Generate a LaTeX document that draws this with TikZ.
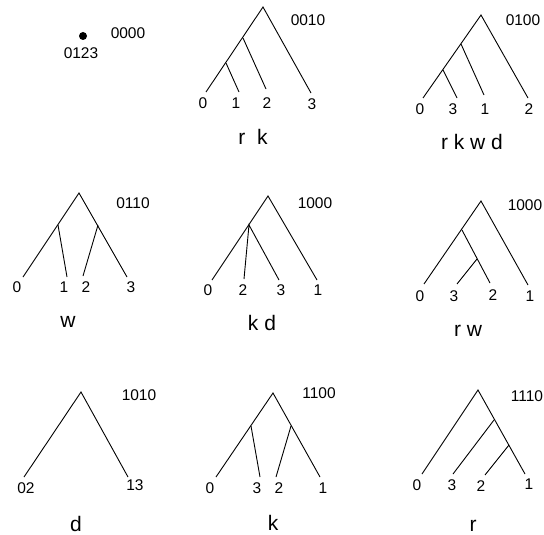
\documentclass[tikz,border=0pt]{standalone}
\usepackage{fontspec}
\setmainfont{Liberation Sans}
\begin{document}
\begin{tikzpicture}[x=1pt,y=-1pt,
  edge/.style={line width=0.9pt},
  num/.style={font=\fontsize{15.5}{15.5}\selectfont,inner sep=0pt,text height=11.1pt,text depth=0pt},
  word/.style={font=\fontsize{21}{21}\selectfont,inner sep=0pt,text height=15pt,text depth=0pt},
  pt/.style={circle,fill=black,inner sep=0pt,minimum size=8pt}]
\useasboundingbox (0,0) rectangle (544,535);

% ---- 0000: single point
\node[pt] (p1) at (83,36) {};
\node[num] (p1lab) at (81,53) {0123};
\node[num] (p1code) at (128,33) {0000};

% ---- 0010
\coordinate (a2) at (263,7);
\coordinate (a2x) at (243,38);
\coordinate (a2y) at (226,63);
\coordinate (a2l0) at (206,92);
\coordinate (a2l1) at (239,92);
\coordinate (a2l2) at (266,89);
\coordinate (a2l3) at (311,93);
\draw[edge] (a2l0) -- (a2) -- (a2l3);
\draw[edge] (a2x) -- (a2l2);
\draw[edge] (a2y) -- (a2l1);
\node[num] (t2a) at (203,103) {0};
\node[num] (t2b) at (236,103) {1};
\node[num] (t2c) at (267,103) {2};
\node[num] (t2d) at (312,104) {3};
\node[num] (c2) at (308,20) {0010};
\node[word] (w2) at (253,137) {r\ \ k};

% ---- 0100
\coordinate (a3) at (481,15);
\coordinate (a3x) at (461,44);
\coordinate (a3y) at (443,70);
\coordinate (a3l0) at (423,98);
\coordinate (a3l3) at (457,98);
\coordinate (a3l1) at (484,95);
\coordinate (a3l2) at (528,98);
\draw[edge] (a3l0) -- (a3) -- (a3l2);
\draw[edge] (a3x) -- (a3l1);
\draw[edge] (a3y) -- (a3l3);
\node[num] (t3a) at (420,109) {0};
\node[num] (t3b) at (453,109) {3};
\node[num] (t3c) at (485,109) {1};
\node[num] (t3d) at (529,109) {2};
\node[num] (c3) at (523,20) {0100};
\node[word] (w3) at (472,142) {r k w d};

% ---- 0110
\coordinate (a4) at (79,193);
\coordinate (a4x) at (58,225);
\coordinate (a4y) at (98,225);
\coordinate (a4l0) at (23,277);
\coordinate (a4l1) at (67,277);
\coordinate (a4l2) at (83,276);
\coordinate (a4l3) at (127,277);
\draw[edge] (a4l0) -- (a4) -- (a4l3);
\draw[edge] (a4x) -- (a4l1);
\draw[edge] (a4y) -- (a4l2);
\node[num] (t4a) at (17,287) {0};
\node[num] (t4b) at (64,287) {1};
\node[num] (t4c) at (86,287) {2};
\node[num] (t4d) at (131,287) {3};
\node[num] (c4) at (133,203) {0110};
\node[word] (w4) at (68,320) {w};

% ---- 1000 (middle)
\coordinate (a5) at (268,196);
\coordinate (a5x) at (249,225);
\coordinate (a5l0) at (212,280);
\coordinate (a5l2) at (244,279);
\coordinate (a5l3) at (279,280);
\coordinate (a5l1) at (317,280);
\draw[edge] (a5l0) -- (a5) -- (a5l1);
\draw[edge] (a5l2) -- (a5x) -- (a5l3);
\node[num] (t5a) at (208,290) {0};
\node[num] (t5b) at (243,290) {2};
\node[num] (t5c) at (281,290) {3};
\node[num] (t5d) at (318,290) {1};
\node[num] (c5) at (315,203) {1000};
\node[word] (w5) at (262,323) {k d};

% ---- 1000 (right)
\coordinate (a6) at (481,201);
\coordinate (a6x) at (462,230);
\coordinate (a6y) at (477,259);
\coordinate (a6l0) at (424,284);
\coordinate (a6l3) at (457,284);
\coordinate (a6l2) at (490,283);
\coordinate (a6l1) at (528,285);
\draw[edge] (a6l0) -- (a6) -- (a6l1);
\draw[edge] (a6x) -- (a6l2);
\draw[edge] (a6y) -- (a6l3);
\node[num] (t6a) at (420,296) {0};
\node[num] (t6b) at (454,296) {3};
\node[num] (t6c) at (493,295) {2};
\node[num] (t6d) at (530,296) {1};
\node[num] (c6) at (525,205) {1000};
\node[word] (w6) at (468,329) {r w};

% ---- 1010
\coordinate (a7) at (81,392);
\coordinate (a7l0) at (24,477);
\coordinate (a7l1) at (128,477);
\draw[edge] (a7l0) -- (a7) -- (a7l1);
\node[num] (t7a) at (26,488) {02};
\node[num] (t7b) at (135,485) {13};
\node[num] (c7) at (139,395) {1010};
\node[word] (w7) at (76,524) {d};

% ---- 1100
\coordinate (a8) at (273,393);
\coordinate (a8x) at (251,426);
\coordinate (a8y) at (291,426);
\coordinate (a8l0) at (216,477);
\coordinate (a8l3) at (260,477);
\coordinate (a8l2) at (276,477);
\coordinate (a8l1) at (320,477);
\draw[edge] (a8l0) -- (a8) -- (a8l1);
\draw[edge] (a8x) -- (a8l3);
\draw[edge] (a8y) -- (a8l2);
\node[num] (t8a) at (210,488) {0};
\node[num] (t8b) at (257,488) {3};
\node[num] (t8c) at (279,488) {2};
\node[num] (t8d) at (323,488) {1};
\node[num] (c8) at (319,393) {1100};
\node[word] (w8) at (273,523) {k};

% ---- 1110
\coordinate (a9) at (478,390);
\coordinate (a9x) at (494,420);
\coordinate (a9y) at (509,445);
\coordinate (a9l0) at (422,474);
\coordinate (a9l3) at (453,474);
\coordinate (a9l2) at (485,475);
\coordinate (a9l1) at (525,474);
\draw[edge] (a9l0) -- (a9) -- (a9l1);
\draw[edge] (a9x) -- (a9l3);
\draw[edge] (a9y) -- (a9l2);
\node[num] (t9a) at (417,485) {0};
\node[num] (t9b) at (452,485) {3};
\node[num] (t9c) at (481,486) {2};
\node[num] (t9d) at (529,484) {1};
\node[num] (c9) at (527,396) {1110};
\node[word] (w9) at (473,524) {r};
\end{tikzpicture}
\end{document}
